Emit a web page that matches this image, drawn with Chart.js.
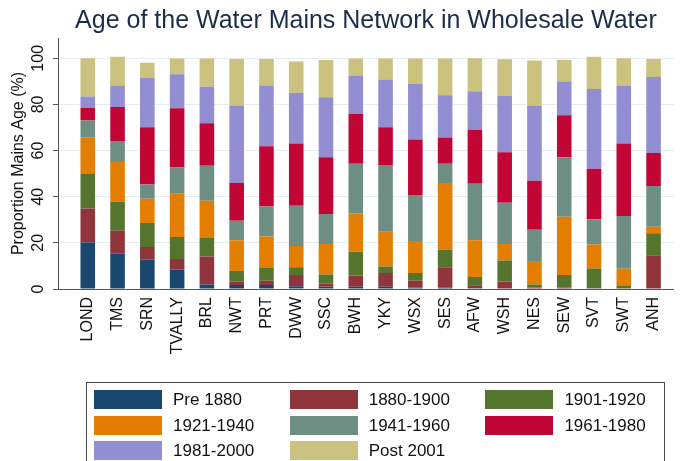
<!DOCTYPE html>
<html>
<head>
<meta charset="utf-8">
<script src="https://cdn.jsdelivr.net/npm/chart.js@4/dist/chart.umd.min.js"></script>
<style>
  html, body { margin: 0; padding: 0; background: #fff; }
  #wrap { position: relative; width: 681px; height: 461px; overflow: hidden; }
  #c { position: absolute; left: 0; top: 0; }
  #legend { position: absolute; left: 86px; top: 382px; width: 579px; height: 95px;
            border: 1px solid #4a4a4a; box-sizing: border-box; font-family: "Liberation Sans", Arial, sans-serif; }
  .li { position: absolute; height: 19px; }
  .sw { position: absolute; left: 0; top: 0; width: 68px; height: 19px; }
  .lt { position: absolute; left: 79px; top: -1px; font-size: 17px; line-height: 21px; color: #111; white-space: nowrap; }
</style>
</head>
<body>
<div id="wrap">
  <canvas id="c" width="681" height="461"></canvas>
  <div id="legend"></div>
</div>
<script>
const categories = ['LOND','TMS','SRN','TVALLY','BRL','NWT','PRT','DWW','SSC','BWH','YKY','WSX','SES','AFW','WSH','NES','SEW','SVT','SWT','ANH'];
const seriesNames = ['Pre 1880','1880-1900','1901-1920','1921-1940','1941-1960','1961-1980','1981-2000','Post 2001'];
const pre1880  = [20.2, 15.3, 12.7, 8.4, 1.9, 1.7, 1.7, 1.2, 1.0, 1.0, 1.0, 0.6, 0.6, 0.3, 0, 0, 0, 0, 0, 0];
const y1880_1900 = [14.7, 10.0, 5.5, 4.6, 12.2, 1.5, 1.9, 4.9, 1.3, 4.9, 5.9, 3.0, 8.8, 1.3, 3.2, 0.6, 0.7, 0.3, 0, 14.6];
const y1901_1920 = [15.0, 12.5, 10.4, 9.5, 8.0, 4.6, 5.5, 3.3, 4.0, 10.3, 2.8, 3.3, 7.6, 3.6, 9.2, 1.3, 5.4, 8.6, 1.3, 9.6];
const y1921_1940 = [15.9, 17.3, 10.5, 18.8, 16.1, 13.3, 13.7, 9.2, 13.2, 16.6, 15.1, 13.9, 29.0, 15.9, 7.1, 10.2, 25.2, 10.4, 7.5, 2.8];
const y1941_1960 = [7.2, 9.1, 6.2, 11.4, 15.2, 8.5, 13.0, 17.5, 13.0, 21.5, 28.9, 19.9, 8.3, 24.5, 17.9, 13.6, 25.8, 10.9, 22.8, 17.7];
const y1961_1980 = [5.6, 14.7, 24.8, 25.7, 18.5, 16.4, 26.1, 27.0, 24.6, 21.7, 16.4, 24.1, 11.4, 23.4, 21.9, 21.2, 18.2, 21.9, 31.5, 14.3];
const y1981_2000 = [4.8, 9.3, 21.5, 14.7, 15.8, 33.5, 26.3, 22.0, 26.0, 16.5, 20.7, 24.2, 18.3, 16.7, 24.5, 32.6, 14.6, 34.6, 25.1, 32.9];
const post2001 = [16.6, 12.5, 6.5, 6.8, 12.2, 20.2, 11.5, 13.5, 16.2, 7.4, 9.1, 10.9, 15.9, 14.3, 15.8, 19.6, 9.5, 14.0, 11.8, 7.8];
const yTicks = [0, 20, 40, 60, 80, 100];

const seriesValues = [pre1880, y1880_1900, y1901_1920, y1921_1940, y1941_1960, y1961_1980, y1981_2000, post2001];
const colors = ['#1a476f','#90353b','#55752f','#e37e00','#6e8e84','#c10534','#938dd2','#cac27e'];

const FONT = '"Liberation Sans", Arial, sans-serif';

const datasets = seriesNames.map((name, s) => ({
  label: name,
  data: seriesValues[s].map((v, i) => ({ x: i, y: v })),
  backgroundColor: colors[s],
  borderWidth: 0,
  barPercentage: 0.49,
  categoryPercentage: 1.0
}));

// draws the y tick labels rotated (reading bottom-to-top), positioned by the y scale
const rotatedYTicks = {
  id: 'rotatedYTicks',
  afterDraw(chart) {
    const ys = chart.scales.y;
    const ctx = chart.ctx;
    ctx.save();
    ctx.fillStyle = '#111';
    ctx.font = '16px ' + FONT;
    ctx.textAlign = 'center';
    ctx.textBaseline = 'middle';
    ys.ticks.forEach(t => {
      const py = ys.getPixelForValue(t.value);
      ctx.save();
      ctx.translate(39, py);
      ctx.rotate(-Math.PI / 2);
      ctx.fillText(String(t.value), 0, 0);
      ctx.restore();
    });
    ctx.restore();
  }
};

const chart = new Chart(document.getElementById('c'), {
  type: 'bar',
  data: { datasets },
  plugins: [rotatedYTicks],
  options: {
    responsive: false,
    animation: false,
    layout: { padding: { left: 0, right: 0, top: 0, bottom: 92 } },
    plugins: {
      legend: { display: false },
      tooltip: { enabled: false },
      title: {
        display: true,
        fullSize: false,
        text: 'Age of the Water Mains Network in Wholesale Water',
        color: '#1c2d4a',
        font: { family: FONT, size: 25, weight: 'normal' },
        padding: { top: 6, bottom: 2 }
      }
    },
    scales: {
      x: {
        type: 'linear',
        stacked: true,
        offset: false,
        min: -1,
        max: 19.68,
        afterBuildTicks: (scale) => { scale.ticks = categories.map((_, i) => ({ value: i })); },
        afterFit: (scale) => { scale.height = 80; },
        ticks: {
          autoSkip: false,
          minRotation: 90,
          maxRotation: 90,
          padding: 8,
          color: '#111',
          font: { family: FONT, size: 16 },
          callback: (v) => categories[v] ?? ''
        },
        grid: { display: false, drawTicks: false },
        border: { display: true, color: '#555', width: 1 }
      },
      y: {
        stacked: true,
        min: 0,
        max: 108.8,
        afterBuildTicks: (scale) => { scale.ticks = yTicks.map(v => ({ value: v })); },
        afterFit: (scale) => { scale.width = 58; },
        ticks: {
          padding: 1,
          color: 'rgba(0,0,0,0)',
          font: { family: FONT, size: 16 }
        },
        grid: { color: '#e4edf0', tickColor: '#555', tickLength: 5, drawTicks: true },
        border: { display: true, color: '#555', width: 1 },
        title: {
          display: true,
          text: 'Proportion Mains Age (%)',
          color: '#111',
          font: { family: FONT, size: 16 },
          padding: { top: 9, bottom: 4 }
        }
      }
    }
  }
});

// HTML legend laid out as a 3-column grid from the chart's datasets
const leg = document.getElementById('legend');
chart.data.datasets.forEach((ds, i) => {
  const col = i % 3, row = Math.floor(i / 3);
  const item = document.createElement('div');
  item.className = 'li';
  item.style.left = (7 + col * 195.7) + 'px';
  item.style.top = (7 + row * 25.5) + 'px';
  const sw = document.createElement('div');
  sw.className = 'sw';
  sw.style.background = ds.backgroundColor;
  const lt = document.createElement('div');
  lt.className = 'lt';
  lt.textContent = ds.label;
  item.appendChild(sw);
  item.appendChild(lt);
  leg.appendChild(item);
});
</script>
</body>
</html>
